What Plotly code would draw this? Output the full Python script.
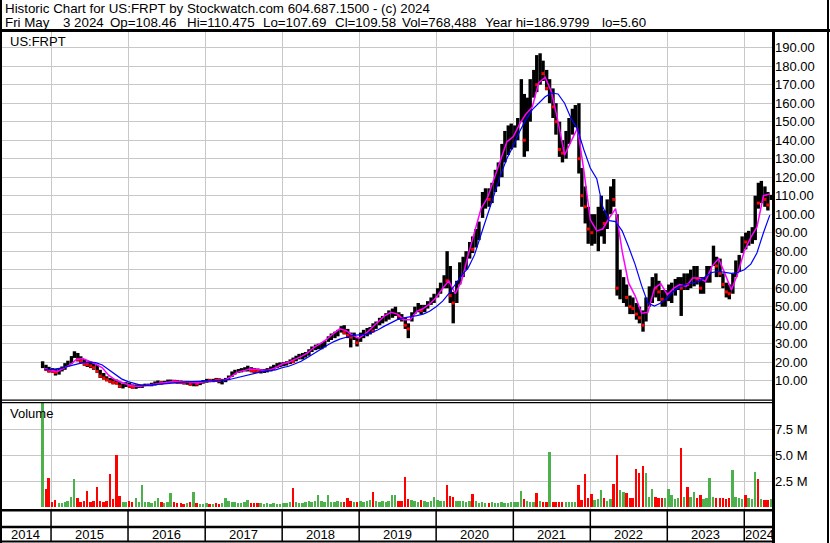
import plotly.graph_objects as go
import pandas as pd

# ---------------- data ----------------
years = ["2014", "2015", "2016", "2017", "2018", "2019", "2020", "2021", "2022", "2023", "2024"]

# semi-monthly bars starting 2014-11-15 (1st / 15th of month)
hi_price = (
    [20.5, 18.6, 17.5]
    + [16.8, 16.3, 16.8, 17.7, 19.5, 20.8, 23.3, 25.9, 25.0, 23.2, 21.7, 20.3, 20.3, 19.5, 18.6, 15.9, 14.2, 12.4, 11.5, 11.0, 10.6, 9.2, 8.5, 9.2]
    + [8.9, 8.0, 8.0, 8.0, 8.0, 8.4, 8.4, 8.9, 9.6, 10.1, 9.7, 9.9, 10.6, 10.6, 10.5, 10.4, 10.1, 9.9, 9.9, 9.7, 9.6, 9.2, 9.7, 10.3]
    + [11.0, 11.0, 11.0, 11.5, 11.3, 11.0, 11.5, 12.8, 15.0, 15.9, 16.3, 16.8, 17.3, 18.1, 17.3, 16.8, 16.6, 16.3, 16.3, 16.8, 17.7, 18.6, 19.5, 19.9]
    + [20, 20.5, 21.5, 22.5, 23.5, 24.5, 25, 25.5, 27, 28.5, 29.5, 30, 30.5, 31.5, 34, 35.5, 36.5, 37.5, 39.5, 40, 38, 36, 36, 33]
    + [36, 37.5, 38.5, 39, 41, 42, 44, 45, 46.5, 48, 49, 50, 47, 46, 44, 41, 47, 50, 52, 51, 51, 53, 55, 57]
    + [60, 63, 67, 80, 72, 58, 64, 74, 77, 80, 85, 88, 92, 96, 112, 114, 114, 117, 124, 128, 138, 145, 148, 149]
    + [148, 152, 173, 165, 163, 173, 178, 186, 186.98, 183, 178, 173, 168, 160, 150, 140, 145, 152, 157, 159, 160, 125, 115, 104]
    + [100, 100, 104, 110, 102, 108, 115, 119, 100, 70, 66, 62, 56, 55, 52, 50, 48, 55, 61, 66, 68, 64, 59, 59]
    + [62, 63, 65, 66, 66, 68, 68, 70, 72, 72, 66, 66, 72, 72, 83, 77, 76, 68, 63, 62, 68, 75, 78, 88]
    + [90, 91, 93, 110, 117, 118, 115, 112, 110.475]
)
lo_price = (
    [16.8, 15.5, 14.5]
    + [14.2, 12.8, 13.3, 15.0, 15.9, 17.7, 19.2, 22.3, 20.4, 19.2, 18.1, 17.4, 16.8, 15.9, 14.2, 11.5, 10.6, 9.7, 8.9, 8.0, 8.0, 6.1, 5.8, 6.6]
    + [6.1, 5.7, 5.6, 6.1, 6.1, 7.0, 7.0, 7.0, 7.4, 8.0, 8.0, 8.2, 8.9, 8.9, 8.7, 8.4, 8.2, 8.0, 7.8, 7.4, 7.0, 7.0, 7.6, 8.4]
    + [8.9, 9.2, 9.2, 9.3, 8.6, 8.0, 9.2, 10.3, 12.0, 13.3, 14.2, 14.5, 15.0, 15.0, 14.5, 14.2, 14.2, 13.9, 14.2, 14.5, 15.0, 15.9, 16.8, 17.3]
    + [17.8, 18.2, 19, 19.5, 20.5, 21.5, 21.5, 22.5, 23.5, 25.5, 26.5, 27, 27, 28, 31, 32, 33, 34, 36, 35, 33, 28, 32, 28.5]
    + [31, 33, 34, 35, 36.5, 38, 40, 41, 42, 43, 44, 45, 43, 42, 38, 33, 42, 46, 47, 46, 47, 49, 51, 52]
    + [55, 57, 60, 60, 52, 41, 52, 62, 66, 70, 76, 79, 82, 86, 98, 103, 104, 106, 112, 115, 120, 128, 132, 135]
    + [136, 140, 150, 131, 134, 150, 163, 166, 170, 172, 167, 160, 152, 143, 131, 128, 130, 138, 143, 147, 122, 104, 95, 84]
    + [83, 84, 80, 88, 84, 92, 100, 104, 56, 54, 52, 50, 46, 46, 43, 41, 36.5, 42, 50, 52, 55, 53, 50, 50]
    + [53, 52, 56, 59, 45, 59, 59, 60, 61, 62, 57, 57, 63, 63, 72, 66, 66, 60, 55, 54, 57, 66, 69, 79]
    + [81, 83, 84, 86, 103, 106, 104, 102, 107.69]
)
close_price = (
    [18.0, 16.0, 15.2]
    + [15.0, 14.5, 16.0, 16.5, 18.5, 19.5, 22.5, 24.0, 21.5, 20.5, 19.0, 18.8, 18.0, 17.0, 15.0, 12.5, 11.5, 10.5, 9.5, 9.0, 8.6, 7.0, 7.5, 8.0]
    + [7.0, 6.5, 7.0, 7.2, 7.5, 7.6, 7.8, 8.5, 9.0, 9.0, 8.8, 9.2, 9.5, 9.7, 9.5, 9.3, 9.0, 8.8, 8.8, 8.0, 8.3, 8.2, 9.0, 9.6]
    + [10.2, 10.0, 10.5, 10.3, 10.0, 10.5, 10.8, 12.0, 14.0, 15.0, 15.5, 16.0, 16.5, 16.5, 15.5, 15.2, 15.0, 15.0, 15.5, 16.0, 17.0, 17.8, 18.5, 19.0]
    + [19, 19.5, 20.5, 20.3, 22.5, 23, 23.5, 24.5, 26.5, 27.5, 28.5, 28.5, 29.5, 31, 33, 34, 35.5, 36.5, 38.5, 36, 34.5, 33.5, 34, 30.5]
    + [34, 36, 37, 37.5, 36.8, 40.5, 42.5, 43.5, 44.5, 46, 47, 48, 45, 43.5, 40, 38, 45.5, 48.5, 49, 48, 49.5, 51.5, 53.5, 55]
    + [58, 61, 65, 64, 56, 52, 60, 70, 74, 77, 82, 81, 89, 92, 108, 110, 108, 113, 120, 122, 133, 138, 140, 142]
    + [145, 147, 165, 140, 155, 168, 172, 170, 180, 176, 168, 170, 158, 150, 135, 133, 140, 148, 150, 154, 130, 110, 104, 92]
    + [90, 95, 98, 100, 95, 104, 110, 108, 60, 62, 63, 55, 50, 49, 46, 44, 40, 52, 57, 62, 60, 58, 54, 56]
    + [58, 60, 62, 63, 60, 64, 62, 66, 67, 65, 60, 63, 68, 70, 78, 72, 68, 62, 58, 57, 65, 72, 75, 87]
    + [85, 88, 90, 108, 106, 110, 108, 105, 109.58]
)
volume_m = (
    [10.5, 1.7, 2.8]
    + [0.5, 0.65, 0.4, 0.4, 0.5, 0.6, 1.0, 2.7, 0.9, 0.5, 0.6, 1.55, 0.5, 0.6, 1.9, 0.6, 0.5, 0.6, 3.2, 0.75, 5.0, 1.05, 0.5, 0.5]
    + [0.6, 0.5, 0.9, 0.5, 2.1, 0.5, 0.5, 0.4, 0.6, 0.9, 0.5, 0.4, 0.5, 1.35, 0.5, 0.4, 0.4, 0.3, 0.4, 0.5, 1.45, 0.4, 0.3, 0.3]
    + [0.4, 0.3, 0.3, 0.35, 0.3, 0.4, 0.85, 0.6, 0.5, 0.5, 0.4, 0.4, 0.45, 0.7, 0.4, 0.35, 0.35, 0.4, 0.3, 0.35, 0.3, 0.35, 0.3, 0.3]
    + [0.35, 0.4, 0.5, 1.8, 0.5, 0.4, 0.4, 0.5, 0.6, 0.5, 0.6, 1.15, 0.6, 0.5, 1.15, 0.5, 0.45, 0.6, 0.5, 0.5, 0.9, 0.6, 0.5, 0.5]
    + [0.6, 0.5, 0.6, 0.7, 1.45, 0.6, 0.5, 0.6, 0.5, 0.6, 1.15, 1.15, 0.6, 0.6, 2.9, 0.8, 0.7, 0.6, 0.5, 0.7, 0.6, 0.5, 0.6, 1.0]
    + [0.7, 0.6, 0.6, 2.1, 1.1, 1.0, 0.6, 0.6, 0.6, 0.5, 0.6, 1.3, 0.6, 0.4, 0.5, 0.4, 0.4, 0.5, 0.4, 0.4, 0.5, 0.4, 0.4, 0.5]
    + [0.5, 0.5, 1.55, 0.75, 0.6, 0.5, 0.5, 1.4, 0.6, 0.5, 0.5, 5.3, 0.5, 0.5, 0.5, 0.5, 0.5, 0.5, 0.5, 0.5, 2.1, 0.7, 3.2, 0.9]
    + [1.3, 0.7, 0.8, 1.6, 0.9, 0.6, 0.8, 2.2, 5.0, 1.6, 1.5, 1.4, 0.9, 0.9, 3.65, 3.26, 4.0, 3.3, 1.0, 1.7, 1.0, 0.9, 0.9, 0.9]
    + [1.7, 1.2, 0.8, 0.9, 5.7, 1.0, 1.9, 1.0, 1.5, 0.9, 1.2, 0.8, 0.9, 2.8, 1.0, 0.9, 0.9, 0.9, 0.8, 0.9, 3.55, 1.0, 0.9, 0.8]
    + [1.2, 0.9, 0.8, 3.4, 2.7, 0.8, 0.7, 0.7, 0.77]
)

# monthly moving-average readings, starting 2014-12-01
ma_fast = (
    [16.5]
    + [15.5, 15, 16.5, 18.5, 21.5, 22, 20.5, 19, 17, 13, 10.5, 9]
    + [7.8, 7, 7, 7.5, 8, 8.8, 9.3, 9.6, 9.6, 9.4, 9.0, 8.8]
    + [9.5, 10.1, 10.3, 10.2, 12, 14.5, 15.5, 16.3, 16.2, 15.6, 15.8, 17]
    + [19, 20, 21.5, 23, 25, 28, 30, 32.5, 35.5, 38, 37, 34.5]
    + [33, 35.5, 38.5, 42, 45, 47, 46, 43, 43, 47.5, 49, 51.5]
    + [55, 60, 64, 57, 64, 78, 91, 103, 109, 119, 130, 139]
    + [142, 149, 154, 158, 171, 174, 166, 150, 132, 139, 146.5, 124]
    + [97, 91, 92, 98, 103, 80, 63, 56, 46.5, 47, 60, 62.5]
    + [56.5, 60, 62, 61, 65.5, 65.5, 63.7, 71.8, 76, 68, 59, 68]
    + [80, 87.5, 93, 110, 111]
)
ma_slow = (
    [16]
    + [16, 16.5, 17, 18, 19, 19.8, 20, 19.8, 18.5, 16, 13.5, 11]
    + [9.5, 8.3, 7.6, 7.5, 7.8, 8.2, 8.6, 9.0, 9.2, 9.4, 9.5, 9.6]
    + [9.7, 9.8, 10, 10.2, 10.8, 11.6, 12.6, 13.5, 14.3, 15, 15.4, 15.9]
    + [17, 17.8, 19, 20.5, 22.5, 24.8, 27, 29, 31, 32.5, 33.5, 34.5]
    + [34.8, 35, 36, 37.5, 39.5, 41.5, 43, 44, 44.5, 45.2, 46, 47.5]
    + [50, 53, 57, 62, 67, 71, 78, 89, 100, 111, 121, 130]
    + [137, 145, 151, 156.5, 160, 163.5, 165.5, 165, 160, 152, 146, 135]
    + [125, 119, 104, 96.5, 96, 91, 82.5, 73, 61.5, 52, 50.3, 52]
    + [54.7, 58.5, 60.7, 62, 62.8, 63.7, 66.3, 68.5, 69.1, 68.5, 68, 68.5]
    + [70, 73, 79, 90, 99.5]
)

price_ticks = [10, 20, 30, 40, 50, 60, 70, 80, 90, 100, 110, 120, 130, 140, 150, 160, 170, 180, 190]
volume_ticks_m = [2.5, 5.0, 7.5]

ticker = "US:FRPT"
header_line1 = "Historic Chart for US:FRPT by Stockwatch.com 604.687.1500 - (c) 2024"
header_fields = ["Fri May", "3 2024", "Op=108.46", "Hi=110.475", "Lo=107.69", "Cl=109.58",
                 "Vol=768,488", "Year hi=186.9799", "lo=5.60"]
header_field_px = [3, 61, 108, 184.5, 260.5, 332.5, 400, 483, 600]  # left edges of the fields

# ---------------- layout helpers ----------------
W, H = 830, 543
PL, PR, PT, PB = 0, 774, 31, 510  # plot-area pixel box


def fx(x):
    return (x - PL) / (PR - PL)


def fy(y):
    return (PB - y) / (PB - PT)


FONT = "Arial, 'Liberation Sans', sans-serif"
FS = 13.0
FS_HEAD = 13.33
GRID = "#c8c8c8"
GREEN = "#4cb04c"
RED = "#ff0000"

n = min(len(hi_price), len(lo_price), len(close_price), len(volume_m))
dates = pd.date_range("2014-11-15", periods=n, freq="SMS") + pd.Timedelta(days=7)
ma_dates = pd.date_range("2014-12-01", periods=min(len(ma_fast), len(ma_slow)), freq="MS")

x_start = pd.Timestamp("2014-05-04")
x_end = pd.Timestamp("2024-05-21")

# ---------------- traces ----------------
bx, by = [], []
for d, h, l in zip(dates, hi_price[:n], lo_price[:n]):
    bx += [d, d, None]
    by += [l, h, None]

down_x, down_y, vol_colors = [], [], []
for i in range(n):
    up = i == 0 or close_price[i] >= close_price[i - 1]
    vol_colors.append(GREEN if up else RED)
    if not up:
        down_x.append(dates[i])
        down_y.append(close_price[i])

fig = go.Figure()
fig.add_trace(go.Scatter(x=bx, y=by, mode="lines", line=dict(color="black", width=3.4),
                         hoverinfo="skip", yaxis="y"))
fig.add_trace(go.Scatter(x=down_x, y=down_y, mode="markers",
                         marker=dict(color=RED, size=3, symbol="square", line=dict(width=0)),
                         hoverinfo="skip", yaxis="y"))
fig.add_trace(go.Scatter(x=ma_dates, y=ma_fast, mode="lines", line=dict(color="#ff00ff", width=1.5),
                         yaxis="y"))
fig.add_trace(go.Scatter(x=ma_dates, y=ma_slow, mode="lines", line=dict(color="#0000ff", width=1.2),
                         yaxis="y"))
fig.add_trace(go.Bar(x=dates, y=[v * 1e6 for v in volume_m[:n]], marker=dict(color=vol_colors, line=dict(width=0)),
                     width=9 * 24 * 3600 * 1000, yaxis="y2"))

# ---------------- axes ----------------
price_top = (399.2 - PT) / 1.85
price_bot = (399.2 - 400) / 1.85
vol_per_px = 2.5e6 / 25.8
vol_zero_px = 507.0

fig.update_layout(
    width=W, height=H,
    margin=dict(l=PL, r=W - PR, t=PT, b=H - PB, pad=0, autoexpand=False),
    paper_bgcolor="white", plot_bgcolor="white",
    showlegend=False, bargap=0,
    font=dict(family=FONT, size=FS, color="black"),
    xaxis=dict(type="date", range=[x_start, x_end], showgrid=True, gridcolor=GRID, gridwidth=1,
               tick0="2015-01-01", dtick="M12", showticklabels=False, ticks="",
               zeroline=False, showline=False, anchor="y2", fixedrange=True),
    yaxis=dict(domain=[fy(400), 1], range=[price_bot, price_top], side="right",
               tickvals=price_ticks, ticktext=[f"{v:.2f}" for v in price_ticks],
               showgrid=True, gridcolor=GRID, gridwidth=1, zeroline=False, showline=False,
               ticks="", tickfont=dict(family=FONT, size=FS, color="black"), anchor="x"),
    yaxis2=dict(domain=[0, fy(403)],
                range=[-(PB - vol_zero_px) * vol_per_px, (vol_zero_px - 403) * vol_per_px],
                side="right", tickvals=[v * 1e6 for v in volume_ticks_m],
                ticktext=[f"{v:.1f} M" for v in volume_ticks_m],
                showgrid=True, gridcolor=GRID, gridwidth=1, zeroline=False, showline=False,
                ticks="", tickfont=dict(family=FONT, size=FS, color="black"), anchor="x"),
)

# ---------------- frame & bottom band ----------------
shapes = []


def hline(y, x0, x1, w):
    shapes.append(dict(type="line", xref="paper", yref="paper", x0=fx(x0), x1=fx(x1), y0=fy(y), y1=fy(y),
                       line=dict(color="black", width=w)))


def vline(x, y0, y1, w):
    shapes.append(dict(type="line", xref="paper", yref="paper", x0=fx(x), x1=fx(x), y0=fy(y0), y1=fy(y1),
                       line=dict(color="black", width=w)))


hline(30.5, 0, 830, 3)
vline(773.5, 30, 543, 3)
hline(400.2, 0, 774, 1.2)
hline(402.6, 0, 774, 1.2)
hline(510.3, 0, 774, 2.5)
hline(527.0, 0, 774, 2.5)
hline(541.5, 0, 774, 2)
vline(1, 0, 543, 2)
vline(828, 0, 543, 2)

boundaries = [x_start] + [pd.Timestamp(f"{y}-01-01") for y in years[1:]] + [x_end]
for b in boundaries[1:-1]:
    shapes.append(dict(type="line", xref="x", yref="paper", x0=b, x1=b, y0=fy(541), y1=fy(510),
                       line=dict(color="black", width=1.5)))
fig.update_layout(shapes=shapes)

# ---------------- texts ----------------
ann = []
for i, yl in enumerate(years):
    mid = boundaries[i] + (boundaries[i + 1] - boundaries[i]) / 2
    ann.append(dict(xref="x", yref="paper", x=mid, y=fy(534.5), text=yl, showarrow=False,
                    xanchor="center", yanchor="middle", font=dict(family=FONT, size=FS, color="black")))
ann.append(dict(xref="paper", yref="paper", x=fx(3), y=fy(8.5), text=header_line1, showarrow=False,
                xanchor="left", yanchor="middle", font=dict(family=FONT, size=FS_HEAD, color="black")))
for txt, px in zip(header_fields, header_field_px):
    ann.append(dict(xref="paper", yref="paper", x=fx(px), y=fy(22.5), text=txt, showarrow=False,
                    xanchor="left", yanchor="middle", font=dict(family=FONT, size=FS_HEAD, color="black")))
ann.append(dict(xref="paper", yref="paper", x=fx(8), y=fy(41), text=ticker, showarrow=False,
                xanchor="left", yanchor="middle", font=dict(family=FONT, size=FS, color="black")))
ann.append(dict(xref="paper", yref="paper", x=fx(8), y=fy(413), text="Volume", showarrow=False,
                xanchor="left", yanchor="middle", font=dict(family=FONT, size=FS, color="black")))
fig.update_layout(annotations=ann)

fig.write_html("out.html", config={"displayModeBar": False},
               post_script="document.body.style.margin='0px';document.body.style.overflow='hidden';")
